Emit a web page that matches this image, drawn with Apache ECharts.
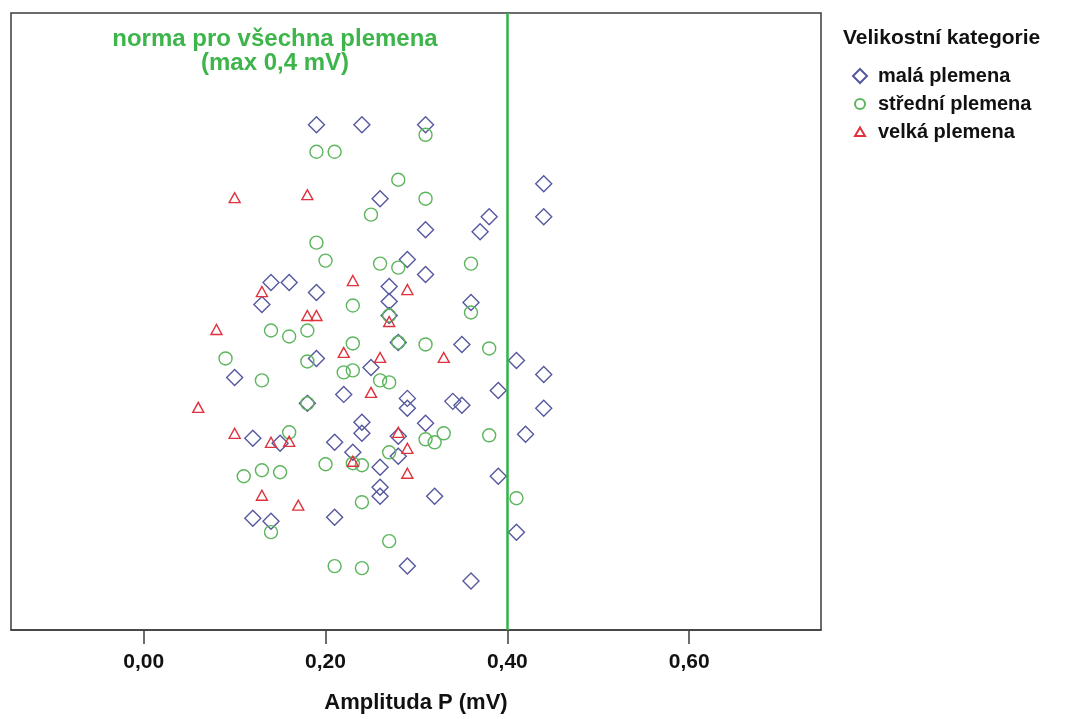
<!DOCTYPE html>
<html><head><meta charset="utf-8">
<script src="https://cdn.jsdelivr.net/npm/echarts@6/dist/echarts.min.js"></script>
<style>html,body{margin:0;padding:0;background:#fff}#c{width:1075px;height:719px}</style>
</head><body><div id="c"></div>
<script>
// Amplituda P (mV) and vertical (jitter) position for each size category
const malaX=[0.19,0.24,0.31,0.44,0.26,0.38,0.44,0.37,0.31,0.29,0.14,0.16,0.31,0.27,0.19,0.13,0.27,0.36,0.27,0.28,0.35,0.19,0.41,0.25,0.10,0.44,0.39,0.22,0.29,0.29,0.34,0.35,0.44,0.18,0.24,0.31,0.24,0.28,0.12,0.15,0.21,0.42,0.23,0.28,0.26,0.39,0.26,0.26,0.32,0.12,0.14,0.21,0.41,0.29,0.36];
const malaY=[50.6,50.6,50.6,44.7,43.2,41.4,41.4,39.9,40.1,37.1,34.8,34.8,35.6,34.4,33.8,32.6,32.9,32.8,31.5,28.8,28.6,27.2,27.0,26.3,25.3,25.6,24.0,23.6,23.2,22.2,22.9,22.5,22.2,22.7,20.8,20.7,19.7,19.4,19.2,18.7,18.8,19.6,17.8,17.4,16.3,15.4,14.3,13.4,13.4,11.2,10.9,11.3,9.8,6.4,4.9];
const stredniX=[0.19,0.21,0.31,0.28,0.25,0.31,0.19,0.20,0.26,0.28,0.36,0.23,0.14,0.16,0.18,0.27,0.36,0.23,0.09,0.18,0.28,0.31,0.38,0.22,0.23,0.26,0.27,0.13,0.18,0.16,0.31,0.32,0.33,0.38,0.27,0.20,0.23,0.24,0.11,0.13,0.15,0.24,0.41,0.14,0.27,0.21,0.24];
const stredniY=[47.9,47.9,49.6,45.1,41.6,43.2,38.8,37.0,36.7,36.3,36.7,32.5,30.0,29.4,30.0,31.5,31.8,28.7,27.2,26.9,28.8,28.6,28.2,25.8,26.0,25.0,24.8,25.0,22.7,19.8,19.1,18.8,19.7,19.5,17.8,16.6,16.7,16.5,15.4,16.0,15.8,12.8,13.2,9.8,8.9,6.4,6.2];
const velkaX=[0.10,0.18,0.23,0.13,0.29,0.18,0.19,0.27,0.08,0.22,0.26,0.33,0.25,0.06,0.10,0.14,0.16,0.28,0.29,0.23,0.29,0.13,0.17];
const velkaY=[43.3,43.6,35.0,33.9,34.1,31.5,31.5,30.9,30.1,27.8,27.3,27.3,23.8,22.3,19.7,18.8,18.9,19.8,18.2,16.9,15.7,13.5,12.5];
const seriesNames=['malá plemena','střední plemena','velká plemena'];
const xTicks=[0,0.2,0.4,0.6];
const normValue=0.4;
const normText='norma pro všechna plemena\n(max 0,4 mV)';
const legendTitle='Velikostní kategorie';
const xName='Amplituda P (mV)';

const FONT='Liberation Sans, Arial, sans-serif';
// legend icons (smaller circle/triangle drawn inside a 14x14 box)
const legendIcons=['diamond',
  'path://M0,0M14,14M12,7A5,5 0 1 1 2,7A5,5 0 1 1 12,7Z',
  'path://M0,0M14,14M7,2.5L12,11L2,11Z'];
function pts(xs,ys){return xs.map((x,i)=>[x,ys[i]]);}
function scat(name,data,symbol,size,color){
  return {name:name,type:'scatter',data:data,symbol:symbol,symbolSize:size,
    itemStyle:{color:'rgba(255,255,255,0)',borderColor:color,borderWidth:1.4,opacity:1},
    emphasis:{disabled:true},silent:true};
}
const chart=echarts.init(document.getElementById('c'));
chart.setOption({
  animation:false,
  backgroundColor:'#fff',
  title:{text:legendTitle,left:843,top:28,padding:0,textStyle:{fontFamily:FONT,fontSize:21,fontWeight:'bold',color:'#111'}},
  legend:{orient:'vertical',left:852,top:66,padding:0,itemWidth:14,itemHeight:14,itemGap:8,
    data:seriesNames.map((n,i)=>({name:n,icon:legendIcons[i]})),selectedMode:false,
    textStyle:{fontFamily:FONT,fontSize:20,fontWeight:'bold',color:'#111',lineHeight:20,padding:[0,0,0,6]}},
  grid:{left:11,right:254,top:13,bottom:88,show:true,borderColor:'#3c3c3c',borderWidth:1.5,backgroundColor:'#fff'},
  xAxis:{type:'value',min:-0.146,max:0.745,
    axisLine:{show:true,onZero:false,lineStyle:{color:'#3c3c3c',width:1.5}},
    axisTick:{show:true,customValues:xTicks,length:14,inside:false,lineStyle:{color:'#3c3c3c',width:1.5}},
    axisLabel:{customValues:xTicks,formatter:v=>v.toFixed(2).replace('.',','),margin:22,fontSize:21,fontWeight:'bold',color:'#111',fontFamily:FONT},
    splitLine:{show:false},
    name:xName,nameLocation:'middle',nameGap:62,
    nameTextStyle:{fontFamily:FONT,fontSize:22,fontWeight:'bold',color:'#111'}},
  yAxis:{type:'value',min:0,max:61.8,show:false,splitLine:{show:false}},
  graphic:[{type:'text',x:275,y:27,silent:true,
    style:{text:normText,fill:'#3db54b',font:'bold 24px '+FONT,textAlign:'center',textVerticalAlign:'top',lineHeight:24}}],
  series:[
    Object.assign(scat(seriesNames[0],pts(malaX,malaY),'diamond',16,'#55589f'),{
      markLine:{silent:true,symbol:'none',label:{show:false},
        lineStyle:{color:'#2fb34a',width:2.5,type:'solid'},data:[{xAxis:normValue}]}}),
    scat(seriesNames[1],pts(stredniX,stredniY),'circle',13,'#5db55d'),
    scat(seriesNames[2],pts(velkaX,velkaY),'triangle',[11,10],'#e0323c')
  ]
});
</script></body></html>
